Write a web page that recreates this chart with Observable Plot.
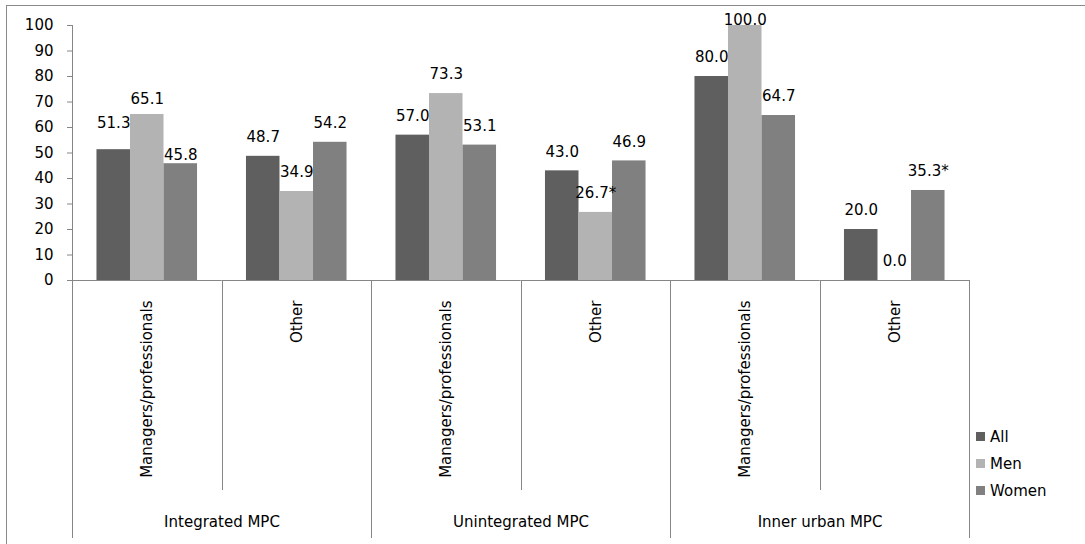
<!DOCTYPE html>
<html><head><meta charset="utf-8">
<script src="https://cdn.jsdelivr.net/npm/d3@7"></script>
<script src="https://cdn.jsdelivr.net/npm/@observablehq/plot@0.6"></script>
<style>
html,body{margin:0;padding:0;background:#fff;overflow:hidden;}
#wrap{position:relative;width:1085px;height:544px;overflow:hidden;}
#border{position:absolute;left:6px;top:5px;width:2000px;height:2000px;border-top:1px solid #8a8a8a;border-left:1px solid #8a8a8a;}
#chart{position:absolute;left:0;top:0;}
#legend{position:absolute;left:976px;top:423px;font:15px "DejaVu Sans";color:#000;}
.item{display:flex;align-items:center;height:27px;}
.sw{width:9px;height:9px;margin-right:5px;}
</style></head>
<body>
<div id="wrap"><div id="border"></div><div id="chart"></div><div id="legend"></div></div>
<script>
// ---- data ----
const groups = ["Integrated MPC", "Unintegrated MPC", "Inner urban MPC"];
const occupations = ["Managers/professionals", "Other"];
const series = ["All", "Men", "Women"];
const allValues   = [51.3, 48.7, 57.0, 43.0, 80.0, 20.0];
const menValues   = [65.1, 34.9, 73.3, 26.7, 100.0, 0.0];
const womenValues = [45.8, 54.2, 53.1, 46.9, 64.7, 35.3];
const starred = ["3|Men", "5|Women"]; // values marked with *
const yTicks = [0, 10, 20, 30, 40, 50, 60, 70, 80, 90, 100];

// ---- style / layout ----
const seriesColors = ["#5f5f5f", "#b3b3b3", "#808080"];
const axisGray = "#868686";
const labelNudge = {"0|All": -7, "0|Men": 4, "0|Women": 10, "4|Men": 14};

const valuesBySeries = {All: allValues, Men: menValues, Women: womenValues};
const cats = [];
groups.forEach((g, gi) => occupations.forEach((o, oi) => {
  cats.push({key: g + "|" + o, group: g, occ: o, idx: gi * 2 + oi, first: oi === 0});
}));
const keys = cats.map(c => c.key);
const rows = [];
cats.forEach(c => series.forEach(s => {
  const v = valuesBySeries[s][c.idx];
  const id = c.idx + "|" + s;
  rows.push({key: c.key, series: s, value: v,
    label: d3.format(".1f")(v) + (starred.includes(id) ? "*" : ""),
    nudge: labelNudge[id] || 0});
}));
const nudges = [...new Set(rows.map(r => r.nudge))];

// axis line and category separators, positioned with the fx and y scales
function structure(index, scales, values, dims) {
  const g = d3.create("svg:g").attr("stroke", axisGray).attr("stroke-width", 1);
  const fx = scales.fx, y = scales.y;
  const bw = fx.bandwidth();
  const y0 = y(0), yBottom = dims.height - 6;
  const vline = (x, y1, y2) => {
    const xx = Math.round(x) + 0.5;
    g.append("line").attr("x1", xx).attr("x2", xx).attr("y1", y1).attr("y2", y2);
  };
  vline(fx(keys[0]), y(100), yBottom);
  cats.forEach((c, i) => { if (i > 0) vline(fx(c.key), y0, c.first ? yBottom : y0 + 210); });
  vline(fx(keys[keys.length - 1]) + bw, y0, yBottom);
  return g.node();
}

const plot = Plot.plot({
  width: 1085, height: 544,
  marginLeft: 72, marginRight: 116, marginTop: 25, marginBottom: 264,
  style: {fontFamily: "DejaVu Sans", fontSize: "15px", color: "#000", background: "transparent"},
  fx: {domain: keys, padding: 0, round: false, axis: null},
  x: {domain: series, paddingInner: 0, paddingOuter: 0.73, round: false, axis: null},
  y: {domain: [0, 100], axis: null},
  color: {domain: series, range: seriesColors},
  marks: [
    Plot.barY(rows, {fx: "key", x: "series", y: "value", fill: "series"}),
    Plot.ruleY([0], {stroke: axisGray}),
    Plot.axisY({ticks: yTicks, tickSize: 5, tickPadding: 14, stroke: axisGray, fill: "#000",
      fontSize: 15, tickFormat: d3.format("d"), label: null}),
    ...nudges.map(n => Plot.text(rows.filter(r => r.nudge === n), {
      fx: "key", x: "series", y: "value", text: "label", dy: -19 + n,
      fill: "#000", fontSize: 15, lineAnchor: "middle"})),
    Plot.text(cats, {fx: "key", text: "occ", frameAnchor: "bottom", dy: 20, rotate: -90,
      textAnchor: "end", lineAnchor: "middle", fill: "#000", fontSize: 15}),
    Plot.text(cats.filter(c => c.first), {fx: "key", text: "group", frameAnchor: "bottom-right",
      dy: 242, textAnchor: "middle", lineAnchor: "middle", fill: "#000", fontSize: 15}),
    Plot.frame({facet: "super", render: structure})
  ]
});
document.getElementById("chart").appendChild(plot);

const legend = d3.select("#legend");
series.forEach((s, i) => {
  const it = legend.append("div").attr("class", "item");
  it.append("div").attr("class", "sw").style("background", seriesColors[i]);
  it.append("span").text(s);
});
</script>
</body></html>
